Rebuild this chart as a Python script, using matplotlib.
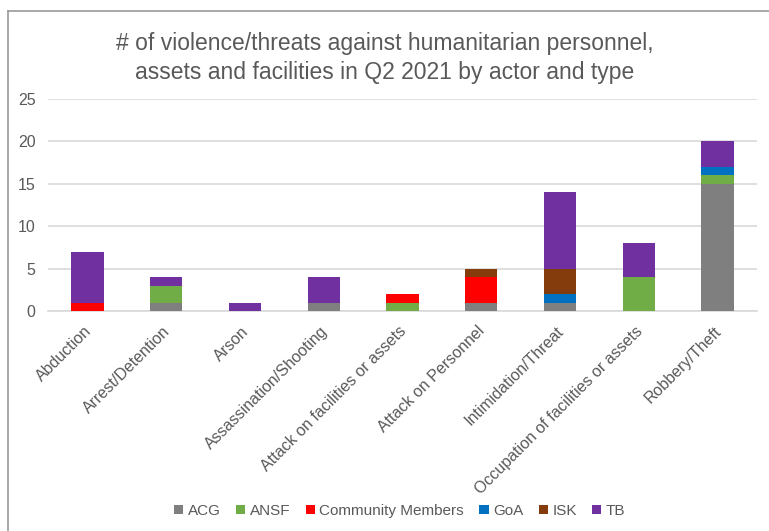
import matplotlib.pyplot as plt
import matplotlib.transforms as mtransforms
import numpy as np
from matplotlib.lines import Line2D

plt.rcParams['font.family'] = ['Liberation Sans', 'DejaVu Sans']

categories = ['Abduction', 'Arrest/Detention', 'Arson', 'Assassination/Shooting',
              'Attack on facilities or assets', 'Attack on Personnel',
              'Intimidation/Threat', 'Occupation of facilities or assets',
              'Robbery/Theft']
actors = ['ACG', 'ANSF', 'Community Members', 'GoA', 'ISK', 'TB']
acg = [0, 1, 0, 1, 0, 1, 1, 0, 15]
ansf = [0, 2, 0, 0, 1, 0, 0, 4, 1]
community = [1, 0, 0, 0, 1, 3, 0, 0, 0]
goa = [0, 0, 0, 0, 0, 0, 1, 0, 1]
isk = [0, 0, 0, 0, 0, 1, 3, 0, 0]
tb = [6, 1, 1, 3, 0, 0, 9, 4, 3]
colors = ['#7f7f7f', '#70ad47', '#ff0000', '#0070c0', '#843c0c', '#7030a0']

series = [acg, ansf, community, goa, isk, tb]
text_color = '#595959'

fig = plt.figure(figsize=(7.69, 5.31), dpi=100)
ax = fig.add_axes([48 / 769, 1 - 311 / 531, 709 / 769, 212 / 531])

x = np.arange(len(categories))
bottom = np.zeros(len(categories))
for name, vals, col in zip(actors, series, colors):
    ax.bar(x, vals, bottom=bottom, width=0.41, color=col, label=name, zorder=3)
    bottom += np.array(vals)

ax.set_xlim(-0.5, len(categories) - 0.5)
ax.set_ylim(0, 25)
ax.set_yticks(range(0, 26, 5))
ax.yaxis.grid(True, color='#d9d9d9', linewidth=1.2, zorder=0)
for s in ['top', 'right', 'left']:
    ax.spines[s].set_visible(False)
ax.spines['bottom'].set_color('#d9d9d9')
ax.spines['bottom'].set_linewidth(1.2)
ax.tick_params(axis='both', length=0, colors=text_color, labelsize=11.5)
ax.tick_params(axis='y', pad=9)
ax.tick_params(axis='x', pad=9)
ax.set_xticks(x)
ax.set_xticklabels(categories, rotation=45, ha='right', rotation_mode='anchor')
# nudge rotated labels a little to the left
shift = mtransforms.ScaledTranslation(-4 / 100, 0, fig.dpi_scale_trans)
for lbl in ax.get_xticklabels():
    lbl.set_transform(lbl.get_transform() + shift)

fig.text(0.5, 1 - 58 / 531,
         '# of violence/threats against humanitarian personnel,\n'
         'assets and facilities in Q2 2021 by actor and type',
         ha='center', va='center', fontsize=16.5, color=text_color,
         linespacing=1.3)

leg = fig.legend(loc='center', bbox_to_anchor=(0.52, 1 - 511 / 531), ncol=6,
                 frameon=False, fontsize=11, handlelength=0.6, handleheight=0.6,
                 handletextpad=0.3, columnspacing=1.0)
for t in leg.get_texts():
    t.set_color(text_color)

# outer chart frame (left and top edges)
fig.add_artist(Line2D([7.5 / 769, 7.5 / 769], [0, 1 - 11 / 531],
                      transform=fig.transFigure, color='#999999', linewidth=1.2))
fig.add_artist(Line2D([7.5 / 769, 1], [1 - 11 / 531, 1 - 11 / 531],
                      transform=fig.transFigure, color='#999999', linewidth=1.2))

fig.savefig('out.png', dpi=100, facecolor='white')
